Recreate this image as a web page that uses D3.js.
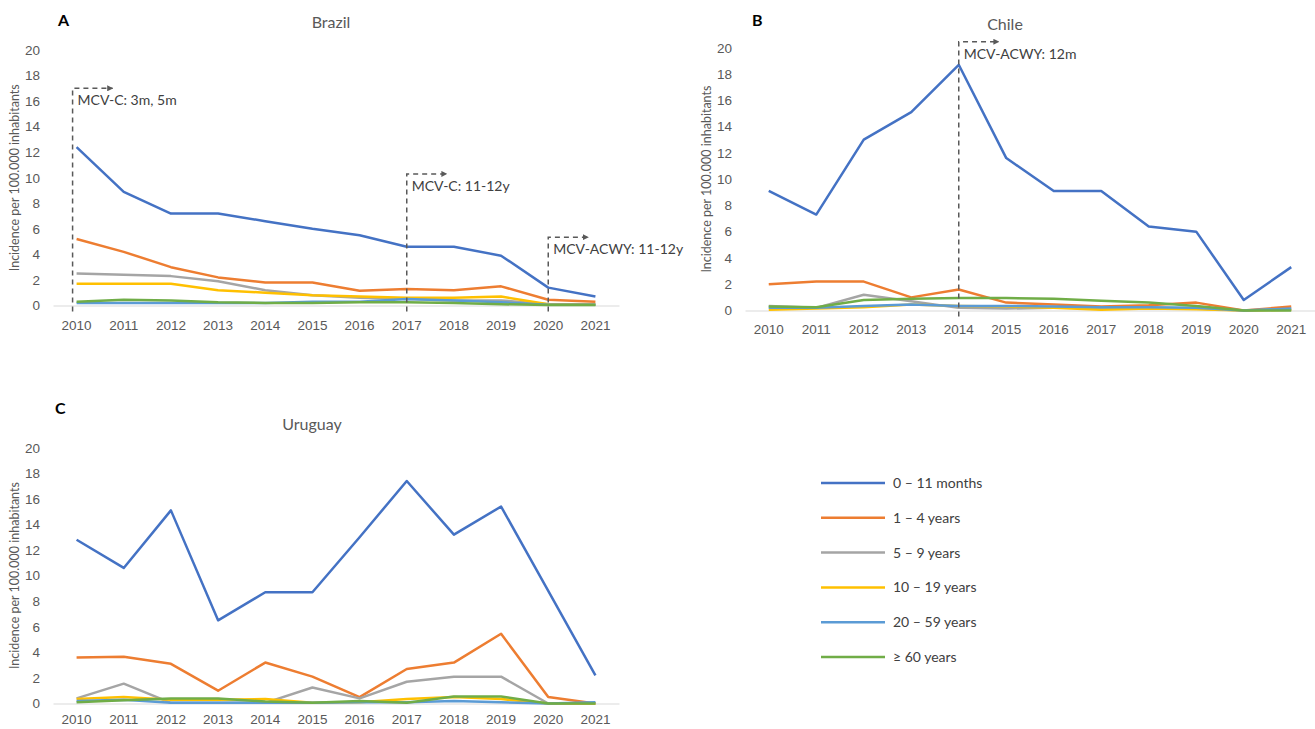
<!DOCTYPE html>
<html>
<head>
<meta charset="utf-8">
<script src="https://cdn.jsdelivr.net/npm/d3@7"></script>
<style>
  body { margin: 0; background: #fff; }
  svg { font-family: Lato, "Open Sans", sans-serif; }
</style>
</head>
<body>
<div id="chart"></div>
<script>
// Donnees (incidence / 100.000 hab.)
var years = ["2010", "2011", "2012", "2013", "2014", "2015", "2016", "2017", "2018", "2019", "2020", "2021"];
var yTicks = [0, 2, 4, 6, 8, 10, 12, 14, 16, 18, 20];
var groups = ["0 – 11 months", "1 – 4 years", "5 – 9 years", "10 – 19 years", "20 – 59 years", "≥ 60 years"];
var colors = ["#4472C4", "#ED7D31", "#A5A5A5", "#FFC000", "#5B9BD5", "#70AD47"];

// Brazil
var brazilInfant = [12.4, 8.9, 7.2, 7.2, 6.6, 6.0, 5.5, 4.6, 4.6, 3.9, 1.4, 0.7];
var brazil1to4   = [5.2, 4.2, 3.0, 2.2, 1.8, 1.8, 1.15, 1.3, 1.2, 1.5, 0.45, 0.3];
var brazil5to9   = [2.5, 2.4, 2.3, 1.9, 1.2, 0.8, 0.6, 0.5, 0.4, 0.4, 0.1, 0.1];
var brazil10to19 = [1.7, 1.7, 1.7, 1.2, 1.0, 0.8, 0.7, 0.6, 0.6, 0.7, 0.1, 0.05];
var brazil20to59 = [0.2, 0.2, 0.2, 0.2, 0.2, 0.3, 0.3, 0.5, 0.4, 0.25, 0.05, 0.05];
var brazil60plus = [0.3, 0.45, 0.4, 0.25, 0.2, 0.2, 0.25, 0.25, 0.2, 0.1, 0.03, 0.03];

// Chile
var chileInfant = [9.1, 7.3, 13.0, 15.1, 18.7, 11.6, 9.1, 9.1, 6.4, 6.0, 0.8, 3.3];
var chile1to4   = [2.0, 2.2, 2.2, 1.0, 1.6, 0.6, 0.45, 0.3, 0.4, 0.6, 0.0, 0.3];
var chile5to9   = [0.35, 0.2, 1.2, 0.7, 0.2, 0.15, 0.2, 0.2, 0.2, 0.15, 0.0, 0.1];
var chile10to19 = [0.05, 0.15, 0.25, 0.45, 0.35, 0.3, 0.2, 0.05, 0.15, 0.1, 0.0, 0.05];
var chile20to59 = [0.2, 0.2, 0.35, 0.45, 0.35, 0.35, 0.3, 0.25, 0.25, 0.2, 0.0, 0.15];
var chile60plus = [0.3, 0.25, 0.8, 0.9, 0.95, 0.95, 0.9, 0.75, 0.6, 0.35, 0.0, 0.0];

// Uruguay
var uruguayInfant = [12.8, 10.6, 15.1, 6.5, 8.7, 8.7, 13.0, 17.4, 13.2, 15.4, 8.8, 2.2];
var uruguay1to4   = [3.6, 3.65, 3.1, 1.0, 3.2, 2.1, 0.5, 2.7, 3.2, 5.45, 0.5, 0.0];
var uruguay5to9   = [0.4, 1.55, 0.05, 0.05, 0.05, 1.25, 0.4, 1.7, 2.1, 2.1, 0.0, 0.0];
var uruguay10to19 = [0.35, 0.5, 0.3, 0.3, 0.35, 0.05, 0.1, 0.35, 0.5, 0.35, 0.0, 0.0];
var uruguay20to59 = [0.2, 0.3, 0.05, 0.05, 0.05, 0.05, 0.1, 0.1, 0.2, 0.1, 0.0, 0.1];
var uruguay60plus = [0.1, 0.25, 0.4, 0.4, 0.15, 0.05, 0.2, 0.05, 0.55, 0.55, 0.0, 0.0];

// Annotations des vaccins : annee, hauteur (unites de l'axe), texte
var brazilNotes = [["2010", 17, "MCV-C: 3m, 5m"], ["2017", 10.3, "MCV-C: 11-12y"], ["2020", 5.35, "MCV-ACWY: 11-12y"]];
var chileNotes = [["2014", 20.45, "MCV-ACWY: 12m"]];

var width = 1315, height = 729;

var svg = d3.select("#chart").append("svg")
    .attr("width", width)
    .attr("height", height);

svg.append("rect").attr("width", width).attr("height", height).attr("fill", "#fff");

// marqueur fleche
svg.append("defs").append("marker")
    .attr("id", "arrow")
    .attr("viewBox", "0 0 10 10")
    .attr("refX", 9).attr("refY", 5)
    .attr("markerWidth", 6).attr("markerHeight", 6)
    .attr("markerUnits", "userSpaceOnUse")
    .attr("orient", "auto")
    .append("path")
    .attr("d", "M0,0 L10,5 L0,10 z")
    .attr("fill", "#595959");

function drawPanel(p) {
    var x = d3.scaleBand().domain(years).range([p.left, p.right]);
    var y = d3.scaleLinear().domain([0, 20]).range([p.bottom, p.top]);
    var cx = function (yr) { return x(yr) + x.bandwidth() / 2; };

    // Axe X
    var gx = svg.append("g")
        .attr("transform", "translate(0," + p.bottom + ")")
        .call(d3.axisBottom(x).tickSize(0).tickSizeOuter(0).tickPadding(p.xpad));
    gx.select(".domain").attr("stroke", "#D9D9D9").attr("stroke-width", 1);
    gx.selectAll("text").style("font-size", "13.5px").attr("fill", "#595959");

    // Axe Y
    var gy = svg.append("g")
        .attr("transform", "translate(" + p.left + ",0)")
        .call(d3.axisLeft(y).tickValues(yTicks).tickSize(0).tickPadding(13));
    gy.select(".domain").remove();
    gy.selectAll("text").style("font-size", "13.5px").attr("fill", "#595959");

    // Titre de l'axe Y
    svg.append("text")
        .attr("transform", "translate(" + p.ytitleX + "," + ((p.top + p.bottom) / 2) + ") rotate(-90)")
        .attr("text-anchor", "middle")
        .attr("dy", "0.35em")
        .style("font-size", "12.5px")
        .attr("fill", "#595959")
        .text("Incidence per 100.000 inhabitants");

    // Titre et lettre
    svg.append("text")
        .attr("x", p.titleX).attr("y", p.titleY)
        .attr("text-anchor", "middle")
        .style("font-size", "16px")
        .attr("fill", "#595959")
        .text(p.title);
    svg.append("text")
        .attr("x", p.letterX).attr("y", p.letterY)
        .style("font-size", "16px")
        .style("font-weight", "bold")
        .attr("fill", "#000")
        .text(p.letter);

    // Courbes
    var line = d3.line()
        .x(function (d, i) { return cx(years[i]); })
        .y(function (d) { return y(d); });

    p.series.forEach(function (s, i) {
        svg.append("path")
            .datum(s)
            .attr("d", line)
            .attr("fill", "none")
            .attr("stroke", colors[i])
            .attr("stroke-width", 2.5)
            .attr("stroke-linejoin", "round");
    });

    // Annotations
    p.notes.forEach(function (n) {
        var xv = cx(n[0]) + (n[0] === "2010" ? -4 : 0);
        var yt = y(n[1]);
        svg.append("path")
            .attr("d", "M" + xv + "," + (p.bottom + 6) + " V" + yt + " H" + (xv + 40))
            .attr("fill", "none")
            .attr("stroke", "#595959")
            .attr("stroke-width", 1.5)
            .attr("stroke-dasharray", "5,4")
            .attr("marker-end", "url(#arrow)");
        svg.append("text")
            .attr("x", xv + 5)
            .attr("y", yt + 17)
            .style("font-size", "14px")
            .attr("fill", "#404040")
            .text(n[2]);
    });
}

drawPanel({
    left: 53, right: 619, top: 50, bottom: 305.5, xpad: 15,
    title: "Brazil", titleX: 331, titleY: 28, letter: "A", letterX: 58, letterY: 26,
    ytitleX: 15,
    series: [brazilInfant, brazil1to4, brazil5to9, brazil10to19, brazil20to59, brazil60plus],
    notes: brazilNotes
});

drawPanel({
    left: 745, right: 1315, top: 47.7, bottom: 310.5, xpad: 14,
    title: "Chile", titleX: 1005, titleY: 30, letter: "B", letterX: 752, letterY: 26,
    ytitleX: 707,
    series: [chileInfant, chile1to4, chile5to9, chile10to19, chile20to59, chile60plus],
    notes: chileNotes
});

drawPanel({
    left: 53, right: 619, top: 447.7, bottom: 703.5, xpad: 11,
    title: "Uruguay", titleX: 312, titleY: 430, letter: "C", letterX: 55, letterY: 414,
    ytitleX: 15,
    series: [uruguayInfant, uruguay1to4, uruguay5to9, uruguay10to19, uruguay20to59, uruguay60plus],
    notes: []
});

// Legende
var legY = d3.scalePoint().domain(groups).range([483, 657]);
var leg = svg.append("g");
groups.forEach(function (g, i) {
    leg.append("line")
        .attr("x1", 821).attr("x2", 885)
        .attr("y1", legY(g)).attr("y2", legY(g))
        .attr("stroke", colors[i])
        .attr("stroke-width", 2.5);
    leg.append("text")
        .attr("x", 893).attr("y", legY(g))
        .attr("dy", "0.35em")
        .style("font-size", "14px")
        .attr("fill", "#404040")
        .text(g);
});
</script>
</body>
</html>
